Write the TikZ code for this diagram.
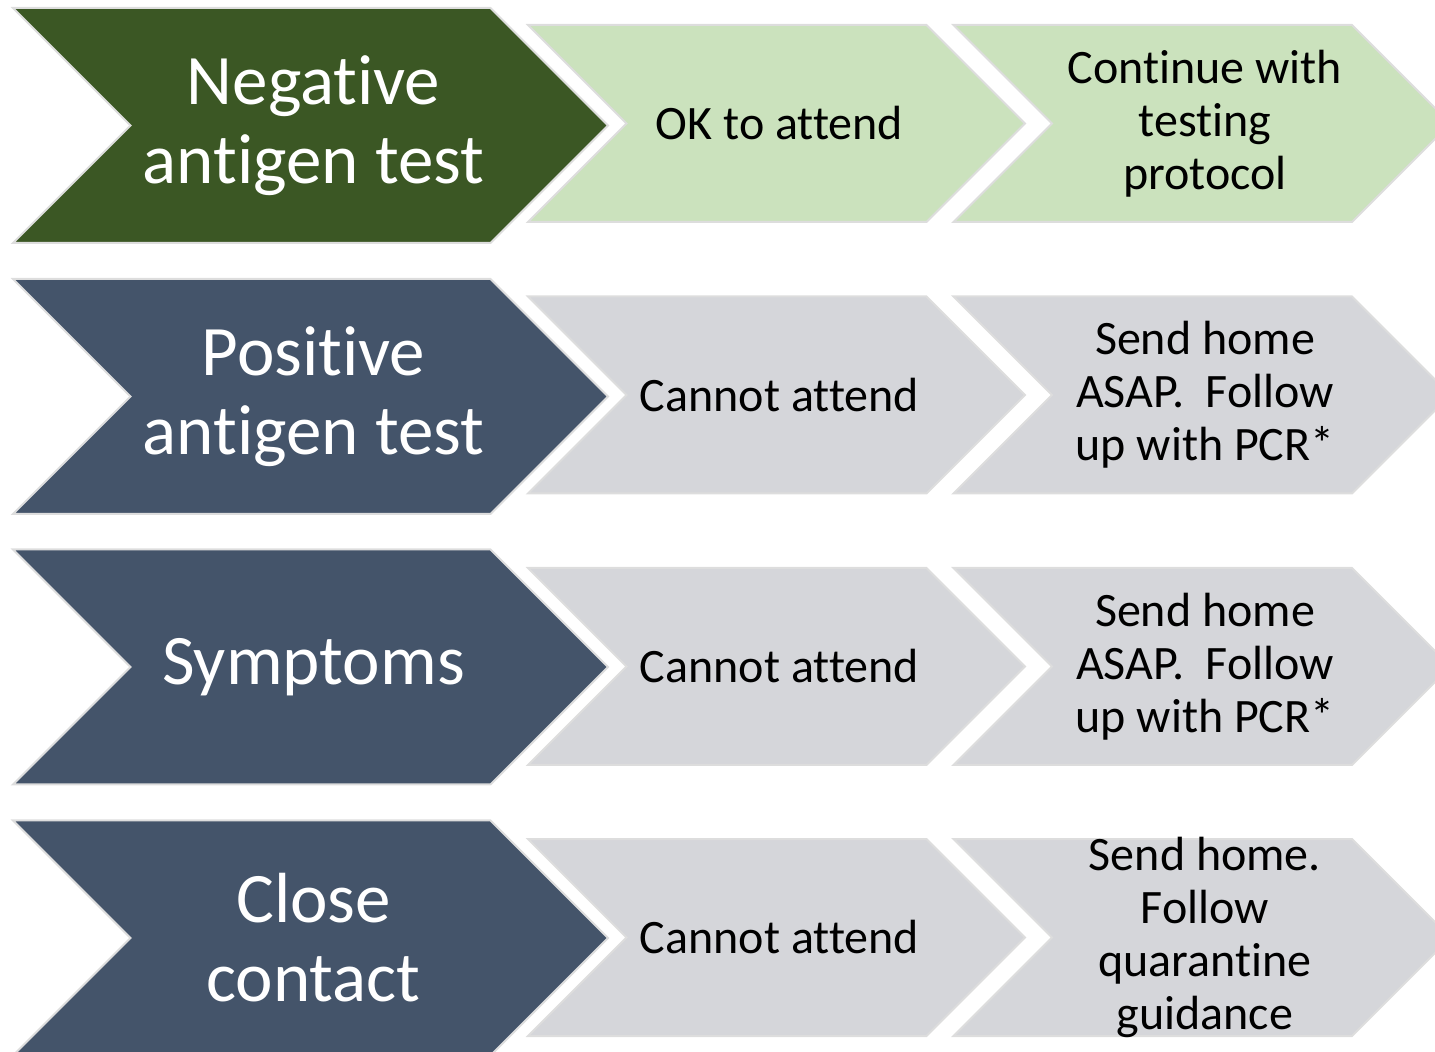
\documentclass[tikz,border=0pt]{standalone}
\usepackage{fontspec}
\setmainfont{Carlito}[RawFeature={-liga;-clig;-dlig;-calt;-rlig}]
\usetikzlibrary{shapes.symbols}
\definecolor{darkgreen}{HTML}{3B5724}
\definecolor{palegreen}{HTML}{CBE2BD}
\definecolor{slate}{HTML}{44546A}
\definecolor{palegrey}{HTML}{D5D6DA}
\definecolor{edgegrey}{HTML}{DDDDDD}

\begin{document}
\begin{tikzpicture}[x=0.5pt,y=-0.5pt]
 	\tikzstyle{chev}=[signal, signal from=west, signal to=east, draw=edgegrey, line width=1pt, inner sep=0pt]
 	\tikzstyle{big}=[chev, minimum width=297.5pt, minimum height=117.5pt]
 	\tikzstyle{mid}=[chev, minimum width=248.5pt, minimum height=98.5pt]
 	\tikzstyle{bigtext}=[align=center, text=white, xshift=1.5pt, font=\fontsize{35.5}{39.5}\selectfont]
 	\tikzstyle{midtext}=[align=center, text=black, xshift=1.5pt, font=\fontsize{24}{26.5}\selectfont]
 	\useasboundingbox (0,0) rectangle (1435,1052);
 	\clip (0,0) rectangle (1435,1052);
 	% negative test
 	\node[big, fill=darkgreen] (neg) at (310.5,125.5) [label={[bigtext]center:Negative\\antigen test}] { };
 	\node[mid, fill=palegreen] (negok) at (776.5,123.5) [label={[midtext]center:OK to attend}] { };
 	\node[mid, fill=palegreen] (negnext) at (1202,123.5) [label={[midtext]center:Continue with\\testing\\protocol}] { };
 	% positive test
 	\node[big, fill=slate] (pos) at (310.5,396.5) [label={[bigtext]center:Positive\\antigen test}] { };
 	\node[mid, fill=palegrey] (posok) at (776.5,395) [label={[midtext]center:Cannot attend}] { };
 	\node[mid, fill=palegrey] (posnext) at (1202,395) [label={[midtext]center:Send home\\ASAP.\ \ Follow\\up with PCR*}] { };
 	% symptoms
 	\node[big, fill=slate] (sym) at (310.5,667) [label={[bigtext]center:Symptoms}] { };
 	\node[mid, fill=palegrey] (symok) at (776.5,666.5) [label={[midtext]center:Cannot attend}] { };
 	\node[mid, fill=palegrey] (symnext) at (1202,666.5) [label={[midtext]center:Send home\\ASAP.\ \ Follow\\up with PCR*}] { };
 	% close contact
 	\node[big, fill=slate] (con) at (310.5,938) [label={[bigtext]center:Close\\contact}] { };
 	\node[mid, fill=palegrey] (conok) at (776.5,937.5) [label={[midtext]center:Cannot attend}] { };
 	\node[mid, fill=palegrey] (connext) at (1202,937.5) [label={[midtext]center:Send home.\\Follow\\quarantine\\guidance}] { };
\end{tikzpicture}
\end{document}
